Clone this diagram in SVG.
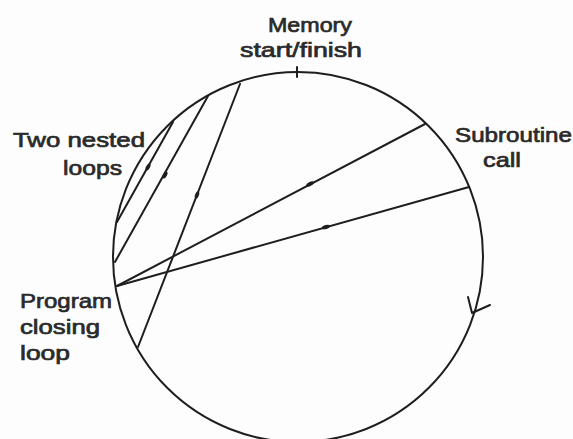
<svg xmlns="http://www.w3.org/2000/svg" width="573" height="439" viewBox="0 0 573 439">
<style>
.ln{fill:none;stroke:#1e1e1e;stroke-width:2;stroke-linecap:round;stroke-linejoin:round}
.dot{fill:#1e1e1e}
.t{font-family:"Liberation Sans",Arial,sans-serif;font-size:21px;fill:#2a2a2a;stroke:#2a2a2a;stroke-width:0.7}
</style>
<rect width="573" height="439" fill="#fdfdfd"/>
<g id="memory-circle">
<circle class="ln" cx="298" cy="257" r="185"/>
<line class="ln" x1="297" y1="67" x2="297" y2="77"/>
<polyline class="ln" points="468,297 472,313 490,305"/>
</g>
<g id="connectors">
<line class="ln" x1="173" y1="122" x2="117" y2="222"/>
<line class="ln" x1="208" y1="96" x2="115" y2="262"/>
<line class="ln" x1="240" y1="84" x2="138" y2="347"/>
<line class="ln" x1="117" y1="286" x2="425" y2="124"/>
<line class="ln" x1="117" y1="286" x2="469" y2="187"/>
<ellipse class="dot" cx="148" cy="167" rx="3.8" ry="1.9" transform="rotate(119 148 167)"/>
<ellipse class="dot" cx="165" cy="175" rx="3.8" ry="1.9" transform="rotate(119 165 175)"/>
<ellipse class="dot" cx="197" cy="195" rx="3.8" ry="1.9" transform="rotate(111 197 195)"/>
<ellipse class="dot" cx="310" cy="184" rx="4.2" ry="2" transform="rotate(-28 310 184)"/>
<ellipse class="dot" cx="326" cy="227" rx="4.2" ry="2" transform="rotate(-16 326 227)"/>
</g>
<g id="label-memory">
<text class="t" x="268" y="32" textLength="84" lengthAdjust="spacingAndGlyphs">Memory</text>
<text class="t" x="240" y="57" textLength="122" lengthAdjust="spacingAndGlyphs">start/finish</text>
</g>
<g id="label-nested">
<text class="t" x="13" y="147" textLength="132" lengthAdjust="spacingAndGlyphs">Two nested</text>
<text class="t" x="63" y="175" textLength="59" lengthAdjust="spacingAndGlyphs">loops</text>
</g>
<g id="label-subroutine">
<text class="t" x="455" y="142" textLength="117" lengthAdjust="spacingAndGlyphs">Subroutine</text>
<text class="t" x="483" y="167" textLength="38" lengthAdjust="spacingAndGlyphs">call</text>
</g>
<g id="label-program">
<text class="t" x="20" y="308" textLength="92" lengthAdjust="spacingAndGlyphs">Program</text>
<text class="t" x="20" y="334" textLength="80" lengthAdjust="spacingAndGlyphs">closing</text>
<text class="t" x="20" y="360" textLength="50" lengthAdjust="spacingAndGlyphs">loop</text>
</g>
</svg>
